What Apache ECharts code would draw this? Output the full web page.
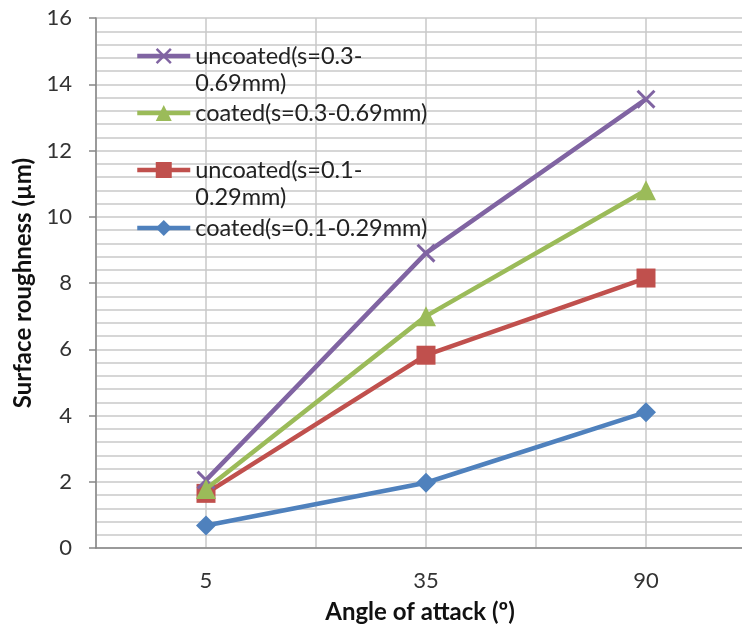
<!DOCTYPE html>
<html>
<head>
<meta charset="utf-8">
<script src="https://cdn.jsdelivr.net/npm/echarts@6/dist/echarts.min.js"></script>
<style>html,body{margin:0;padding:0;background:#fff;overflow:hidden}#c{width:756px;height:629px}</style>
</head>
<body>
<div id="c"></div>
<script>
const categories = ['5', '35', '90'];
const uncoatedLarge = [2.05, 8.9, 13.55];   // uncoated(s=0.3-0.69mm)
const coatedLarge = [1.78, 7.0, 10.8];      // coated(s=0.3-0.69mm)
const uncoatedSmall = [1.65, 5.82, 8.15];   // uncoated(s=0.1-0.29mm)
const coatedSmall = [0.68, 1.97, 4.1];      // coated(s=0.1-0.29mm)
const yTicks = [0, 2, 4, 6, 8, 10, 12, 14, 16];

const names = ['uncoated(s=0.3-\n0.69mm)', 'coated(s=0.3-0.69mm)', 'uncoated(s=0.1-\n0.29mm)', 'coated(s=0.1-0.29mm)'];
const colors = ['#8064A2', '#9BBB59', '#C0504D', '#4F81BD'];
const xPath = 'path://M0,1.1 L1.1,0 L10,8.9 L8.9,10 Z M8.9,0 L10,1.1 L1.1,10 L0,8.9 Z';
const FONT = 'Lato';
const LH = 27;

function legendFor(i, centerY, twoLine) {
  return {
    data: [names[i]],
    left: 135,
    top: twoLine ? centerY - 1.5 * LH : centerY - LH / 2,
    padding: 0,
    itemWidth: 53,
    itemHeight: 20,
    selectedMode: false,
    lineStyle: {width: 4.5},
    formatter: n => n.indexOf('\n') >= 0 ? '\n' + n : n,
    textStyle: {fontFamily: FONT, fontSize: 23.5, color: '#222', lineHeight: LH}
  };
}

const chart = echarts.init(document.getElementById('c'), null, {renderer: 'canvas'});
const gridColor = '#c9c9c9';
chart.setOption({
  animation: false,
  backgroundColor: '#fff',
  grid: {left: 96, top: 18, right: 0, bottom: 81, containLabel: false},
  legend: [
    legendFor(0, 56, true),
    legendFor(1, 113, false),
    legendFor(2, 170, true),
    legendFor(3, 228, false)
  ],
  xAxis: [{
    type: 'category',
    data: categories,
    boundaryGap: true,
    axisLine: {lineStyle: {color: '#868686', width: 1.5}},
    axisTick: {show: false},
    splitLine: {show: false},
    axisLabel: {margin: 22, fontFamily: FONT, fontSize: 22, color: '#333'},
    name: 'Angle of attack (º)',
    nameLocation: 'middle',
    nameGap: 52,
    nameTextStyle: {fontFamily: FONT, fontSize: 24, fontWeight: 'bold', color: '#111', padding: [0, 12, 0, 0]}
  }, {
    type: 'category',
    data: ['', '', '', '', '', ''],
    boundaryGap: true,
    position: 'bottom',
    axisLine: {show: false},
    axisTick: {show: false},
    axisLabel: {show: false},
    splitLine: {show: true, lineStyle: {color: gridColor, width: 1.5}}
  }],
  yAxis: {
    type: 'value',
    min: 0, max: 16, interval: 2,
    axisLine: {show: true, lineStyle: {color: '#868686', width: 1.5}},
    axisTick: {show: true, length: 7, lineStyle: {color: '#868686', width: 1.5}},
    axisLabel: {margin: 24, fontFamily: FONT, fontSize: 22, color: '#333',
      formatter: v => yTicks.includes(v) ? String(v) : ''},
    splitLine: {show: true, lineStyle: {color: gridColor, width: 1.5}},
    minorTick: {show: false, splitNumber: 5},
    minorSplitLine: {show: true, lineStyle: {color: gridColor, width: 1.5}},
    name: 'Surface roughness (µm)',
    nameLocation: 'middle',
    nameGap: 61,
    nameTextStyle: {fontFamily: FONT, fontSize: 24, fontWeight: 'bold', color: '#111'}
  },
  series: [
    {name: names[2], type: 'line', data: uncoatedSmall, symbol: 'rect', symbolSize: 19,
      lineStyle: {width: 4.5, color: colors[2]}, itemStyle: {color: colors[2]}, z: 2},
    {name: names[0], type: 'line', data: uncoatedLarge, symbol: xPath, symbolSize: 19,
      lineStyle: {width: 4.5, color: colors[0]}, itemStyle: {color: colors[0]}, z: 3},
    {name: names[1], type: 'line', data: coatedLarge, symbol: 'triangle', symbolSize: 20,
      lineStyle: {width: 4.5, color: colors[1]}, itemStyle: {color: colors[1]}, z: 4},
    {name: names[3], type: 'line', data: coatedSmall, symbol: 'diamond', symbolSize: 20,
      lineStyle: {width: 4.5, color: colors[3]}, itemStyle: {color: colors[3]}, z: 5}
  ]
});
</script>
</body>
</html>
